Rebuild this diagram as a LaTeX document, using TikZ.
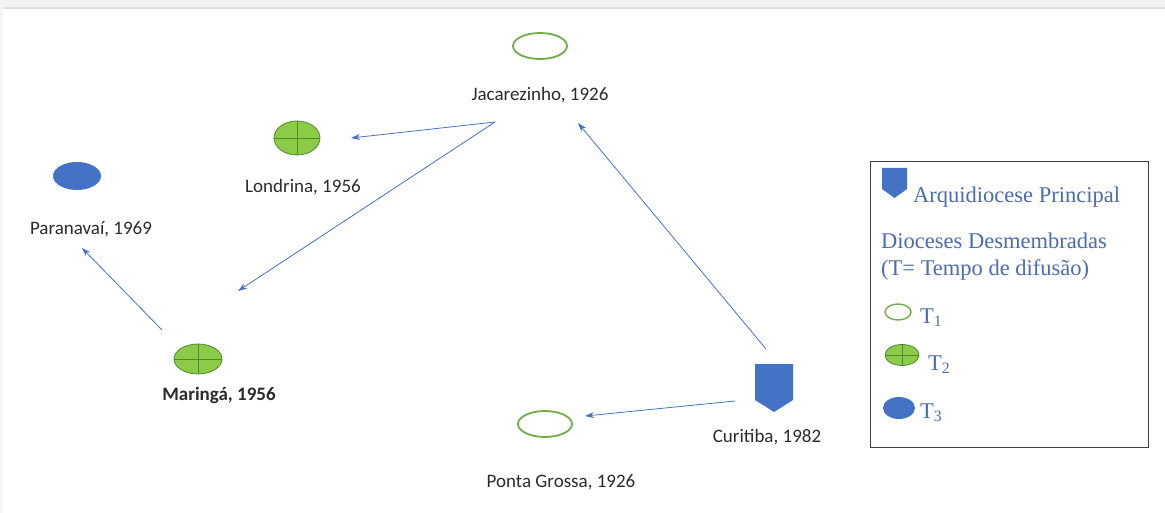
\documentclass[tikz,border=0pt]{standalone}
\usepackage{fontspec}
\setmainfont{Carlito}
\newfontfamily\legfont{Liberation Serif}
\usetikzlibrary{arrows.meta}
\definecolor{ablue}{HTML}{4472C4}
\definecolor{lgreen}{HTML}{8CCB48}
\definecolor{dgreen}{HTML}{4E8A2E}
\definecolor{ogreen}{HTML}{70AD47}
\definecolor{labgray}{HTML}{2B2B2B}
\definecolor{legblue}{HTML}{4A6CB3}
\tikzset{
  lab/.style={font=\fontsize{19}{22}\selectfont, text=labgray, inner sep=0pt},
  leg/.style={font=\legfont\fontsize{22.5}{26}\selectfont, text=legblue, inner sep=0pt, anchor=base west},
  conn/.style={draw=ablue, line width=0.8pt, -{Stealth[length=9pt,width=6pt]}},
}
\newcommand{\crossell}[4]{% x y rx ry
  \fill[lgreen] (#1,#2) ellipse [x radius=#3, y radius=#4];
  \draw[dgreen, line width=0.8pt] (#1,#2) ellipse [x radius=#3, y radius=#4];
  \draw[dgreen, line width=0.8pt] (#1-#3,#2) -- (#1+#3,#2) (#1,#2-#4) -- (#1,#2+#4);
}
\begin{document}
\begin{tikzpicture}[x=1pt,y=-1pt]
\useasboundingbox (0,0) rectangle (1165,513);
\fill[white] (0,0) rectangle (1165,513);
\fill[black!5] (0,0) rectangle (1165,7);
\draw[black!12, line width=1.5pt] (0,8) -- (1165,8);
\fill[black!4] (0,0) rectangle (3,513);

% Jacarezinho
\draw[draw=ogreen, line width=1.8pt, fill=white] (540,46) ellipse [x radius=27, y radius=13];
\node[lab] (jac) at (540,95) {Jacarezinho, 1926};
% Londrina
\crossell{297}{138}{23}{17}
\node[lab] (lon) at (303,187) {Londrina, 1956};
% Paranavai
\fill[ablue] (77,176) ellipse [x radius=24, y radius=14];
\node[lab] (par) at (91,229) {Paranavaí, 1969};
% Maringa
\crossell{198}{359}{24}{15}
\node[lab, font=\fontsize{19}{22}\selectfont\bfseries] (mar) at (219,395) {Maringá, 1956};
% Ponta Grossa
\draw[draw=ogreen, line width=1.8pt, fill=white] (545,424) ellipse [x radius=27, y radius=13];
\node[lab] (pg) at (561,482) {Ponta Grossa, 1926};
% Curitiba
\fill[ablue] (755,364) -- (793,364) -- (793,400) -- (774,412) -- (755,400) -- cycle;
\node[lab] (cur) at (767,437) {Curitiba, 1982};

% connector coordinates
\coordinate (jacS) at (495,122);
\coordinate (lonE) at (351,138);
\coordinate (marN) at (238,291);
\coordinate (curN) at (766,349);
\coordinate (jacE) at (578,123);
\coordinate (curW) at (735,401);
\coordinate (pgE) at (585,416);
\coordinate (marNW) at (162,330);
\coordinate (parS) at (82,248);
\draw[conn] (jacS) -- (lonE);
\draw[conn] (jacS) -- (marN);
\draw[conn] (curN) -- (jacE);
\draw[conn] (curW) -- (pgE);
\draw[conn] (marNW) -- (parS);

% Legend
\node[draw=black!75, line width=1pt, minimum width=278pt, minimum height=285pt, inner sep=0pt] (legend) at (1009,304.5) {};
\fill[ablue] (882,168) -- (907,168) -- (907,189) -- (894.5,198) -- (882,189) -- cycle;
\node[leg] (l1) at (913,203) {Arquidiocese Principal};
\node[leg] (l2) at (881,249) {Dioceses Desmembradas};
\node[leg] (l3) at (881,276) {(T= Tempo de difusão)};
\draw[draw=ogreen, line width=1.4pt, fill=white] (898,312) ellipse [x radius=13, y radius=8];
\node[leg] (t1) at (920,323) {T\textsubscript{1}};
\crossell{902}{355}{17}{10.5}
\node[leg] (t2) at (928,370) {T\textsubscript{2}};
\fill[ablue] (899,408) ellipse [x radius=16, y radius=11];
\node[leg] (t3) at (920,418) {T\textsubscript{3}};
\end{tikzpicture}
\end{document}
